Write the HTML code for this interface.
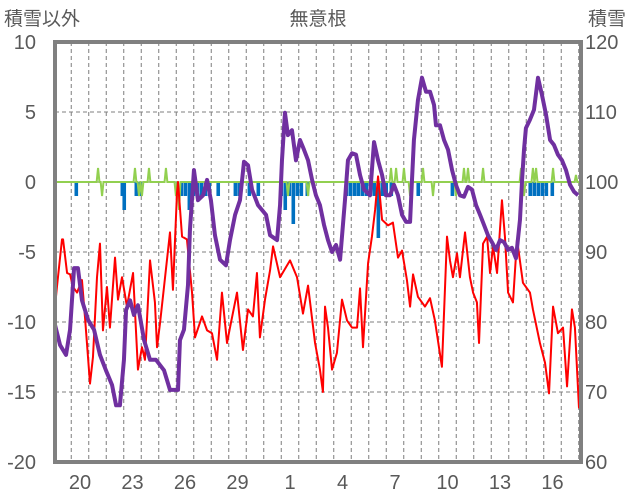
<!DOCTYPE html>
<html><head><meta charset="utf-8">
<style>
html,body{margin:0;padding:0;background:#fff;}
svg{display:block;font-family:"Liberation Sans","Noto Sans CJK JP",sans-serif;}
</style></head>
<body>
<svg id="chart" width="636" height="501" viewBox="0 0 636 501" xmlns="http://www.w3.org/2000/svg">
<text x="4" y="25" font-size="19" fill="#595959">積雪以外</text>
<text x="318" y="25" font-size="19" fill="#595959" text-anchor="middle">無意根</text>
<text x="588" y="25" font-size="19" fill="#595959">積雪</text>
<g id="grid"></g>
<g id="bars"></g>
<g id="lines"></g>
<rect x="55" y="42" width="526" height="420" fill="none" stroke="#808080" stroke-width="4"/>
<g id="ticks"></g>
</svg>
<script>
const leftTicks=[10,5,0,-5,-10,-15,-20];
const rightTicks=[120,110,100,90,80,70,60];
const dayLabels=["20","23","26","29","1","4","7","10","13","16"];
const snowTime=[0,.29,.63,.86,1.09,1.31,1.54,1.89,2.23,2.57,2.91,3.26,3.49,3.71,3.94,4.06,4.29,4.51,4.74,5.09,5.43,5.77,6.23,6.57,7.03,7.14,7.37,7.6,7.71,7.94,8.17,8.46,8.69,8.91,9.14,9.43,9.77,10.0,10.29,10.57,10.8,11.03,11.26,11.6,11.83,12.06,12.29,12.69,12.86,12.97,13.14,13.31,13.54,13.77,14.0,14.23,14.46,14.69,14.91,15.14,15.37,15.6,15.83,16.06,16.29,16.57,16.74,16.97,17.2,17.43,17.66,18.0,18.23,18.46,18.69,18.91,19.14,19.37,19.6,19.83,20.06,20.29,20.4,20.51,20.74,20.97,21.2,21.43,21.66,21.77,22.0,22.23,22.46,22.69,22.91,23.14,23.37,23.6,23.83,24.06,24.29,24.51,24.74,24.97,25.2,25.43,25.66,25.89,26.11,26.34,26.57,26.69,26.8,26.91,27.14,27.37,27.6,27.83,28.06,28.29,28.51,28.74,28.97,29.2,29.43,29.66,29.89];
const snowDepth=[79.6,76.7,75.3,78.9,87.7,87.7,83.1,80.3,78.9,75.3,73.1,71.0,68.1,68.1,74.6,81.7,83.1,81.0,82.4,77.4,74.6,74.6,73.1,70.3,70.3,77.4,78.9,85.3,93.1,101.7,97.4,98.1,100.3,97.4,92.4,88.9,88.1,91.7,95.3,97.4,102.9,102.4,98.9,96.7,96.0,95.3,92.4,91.7,96.7,103.1,109.9,106.7,107.4,103.1,106.0,104.6,103.1,100.3,98.1,96.7,93.9,91.7,90.0,91.0,88.9,97.4,103.1,104.1,103.9,101.0,98.9,98.1,105.7,103.1,101.0,98.1,98.1,99.6,98.1,95.3,94.3,94.3,100.3,106.0,111.7,114.9,112.9,112.9,111.0,108.1,108.1,106.0,104.6,101.7,99.6,98.1,97.9,99.3,98.9,96.7,95.3,93.9,92.4,91.4,90.3,91.7,91.4,90.3,90.6,89.1,94.6,100.3,104.6,107.7,108.9,110.3,114.9,112.4,109.6,106.0,105.3,103.9,103.1,101.7,99.6,98.6,98.1];
const redTime=[0,.11,.4,.46,.69,.86,1.03,1.26,1.54,1.71,2.0,2.17,2.4,2.57,2.74,2.97,3.14,3.43,3.6,3.83,4.11,4.46,4.74,4.97,5.14,5.43,5.71,5.83,6.0,6.29,6.57,6.74,6.97,7.03,7.26,7.54,7.83,8.0,8.4,8.69,8.97,9.26,9.54,9.83,10.0,10.4,10.74,11.03,11.31,11.54,11.71,12.0,12.29,12.46,12.86,13.43,13.83,14.17,14.46,14.86,15.14,15.31,15.43,15.6,15.83,16.11,16.4,16.69,16.97,17.26,17.43,17.6,17.89,18.11,18.29,18.46,18.69,19.03,19.31,19.6,19.83,20.11,20.29,20.46,20.74,21.14,21.43,21.71,22.11,22.4,22.57,22.74,22.97,23.14,23.43,23.71,23.89,24.11,24.23,24.46,24.69,24.86,25.03,25.26,25.54,25.71,25.89,26.17,26.4,26.74,27.14,27.31,27.71,28.0,28.23,28.46,28.74,29.03,29.26,29.54,29.71,29.94,30.06];
const redValue=[-8.9,-7.5,-4.1,-4.1,-6.5,-6.6,-7.5,-7.9,-7.0,-9.6,-14.4,-12.5,-6.8,-4.4,-10.6,-7.5,-10.4,-5.4,-8.4,-6.8,-8.9,-6.5,-13.4,-11.8,-12.7,-5.6,-8.6,-11.8,-10.1,-6.8,-3.6,-7.7,-0.8,0,-3.9,-4.1,-7.9,-11.1,-9.6,-10.6,-10.8,-12.7,-7.9,-11.5,-10.4,-7.9,-12.0,-9.1,-9.6,-6.5,-11.1,-8.4,-6.3,-4.6,-6.8,-5.6,-6.8,-9.4,-7.4,-11.5,-13.4,-15.0,-8.9,-10.4,-13.4,-12.2,-8.4,-9.9,-10.4,-10.4,-7.6,-11.8,-5.8,-3.9,-2.0,0.4,-2.7,-3.1,-2.9,-5.4,-4.9,-7.0,-8.9,-6.6,-8.2,-8.9,-8.3,-9.9,-13.2,-3.9,-5.6,-6.8,-5.1,-6.8,-3.6,-6.8,-7.9,-8.6,-11.5,-4.4,-3.9,-6.5,-4.6,-6.5,-1.3,-3.9,-7.9,-8.6,-4.1,-7.2,-7.9,-9.1,-11.5,-12.9,-15.1,-8.9,-10.8,-10.4,-14.6,-9.1,-10.4,-16.1,-16.3];
const greenTime=[2.46,2.69,4.57,4.8,4.97,5.37,6.34,6.91,7.09,13.31,14.46,19.2,19.49,19.94,20.29,21.03,21.6,22.91,23.37,23.6,24.46,26.63,26.8,27.31,27.49,28.46,29.77];
const greenValue=[1,-1,1,-1,-1,1,1,-1,-2,-1,-1,1,1,1,-1,1,-1,-1,1,1,1,1,-1,1,1,1,0.5];
const blueTime=[1.2,3.83,3.94,4.63,4.86,7.2,7.43,7.66,7.89,8.11,8.34,8.57,8.8,9.31,10.29,10.51,11.09,11.6,12.91,13.14,13.37,13.6,13.83,14.06,14.4,16.63,16.86,17.09,17.31,17.54,17.77,18.0,18.23,18.46,18.69,18.91,19.2,20.74,22.69,27.14,27.37,27.6,27.83,28.06,28.4];
const blueValue=[-1,-1,-2,-1,-1,-1,-1,-2,-1,-1,-1,-1,-1,-1,-1,-1,-1,-1,-1,-2,-1,-3,-1,-1,-1,-1,-1,-1,-1,-1,-1,-1,-1,-4,-1,-1,-1,-1,-1,-1,-1,-1,-1,-1,-1];

const NS="http://www.w3.org/2000/svg";
const X0=55,DAY=17.5,TOP=42,BOT=462;
const xs=t=>X0+t*DAY;
const yL=v=>182-14*v;
const yR=v=>BOT-(v-60)*7;
function mk(tag,attrs,parent){const e=document.createElementNS(NS,tag);for(const k in attrs)e.setAttribute(k,attrs[k]);parent.appendChild(e);return e;}
const grid=document.getElementById('grid'),bars=document.getElementById('bars'),lines=document.getElementById('lines'),ticks=document.getElementById('ticks');
// vertical day gridlines
for(let k=0;k<30;k++){const x=71.25+k*DAY;
 const l=mk('line',{x1:x,x2:x,y1:TOP,y2:BOT,stroke:'#7f7f7f','stroke-width':1,'stroke-dasharray':'4,3'},grid);
 
 }
leftTicks.forEach(v=>{if(v===10||v===-20)return;const y=yL(v);
 const l=mk('line',{x1:X0,x2:581,y1:y,y2:y,stroke:'#7f7f7f','stroke-width':1,'stroke-dasharray':'4,3'},grid);
 
 });
leftTicks.forEach(v=>{const t=mk('text',{x:36,y:yL(v)+7,'font-size':20,fill:'#595959','text-anchor':'end'},ticks);t.textContent=v;
 
 });
rightTicks.forEach(v=>{const t=mk('text',{x:585,y:yR(v)+7,'font-size':20,fill:'#595959'},ticks);t.textContent=v;
 
 });
dayLabels.forEach((d,i)=>{const t=mk('text',{x:80+i*3*DAY,y:489,'font-size':20,fill:'#595959','text-anchor':'middle'},ticks);t.textContent=d;
 
 });
// blue bars
blueTime.forEach((t,i)=>{const y0=yL(0),y1=yL(blueValue[i]);
 const r=mk('rect',{x:xs(t)-1.5,y:y0,width:3.6,height:y1-y0,fill:'#0070C0'},bars);
 
 });
// green line
let gp=[[X0,yL(0)]];
greenTime.forEach((t,i)=>{gp.push([xs(t-0.08),yL(0)]);gp.push([xs(t),yL(greenValue[i])]);gp.push([xs(t+0.08),yL(0)]);});
gp.push([581,yL(0)]);
const g=mk('polyline',{points:gp.map(p=>p.join(',')).join(' '),fill:'none',stroke:'#92D050','stroke-width':2},lines);


// red line
const r=mk('polyline',{points:redTime.map((t,i)=>xs(t)+','+yL(redValue[i])).join(' '),fill:'none',stroke:'#FF0000','stroke-width':2,'stroke-linejoin':'round'},lines);


// purple snow depth
const p=mk('polyline',{points:snowTime.map((t,i)=>xs(t)+','+yR(snowDepth[i])).join(' '),fill:'none',stroke:'#7030A0','stroke-width':4,'stroke-linejoin':'round'},lines);


</script>
</body></html>
